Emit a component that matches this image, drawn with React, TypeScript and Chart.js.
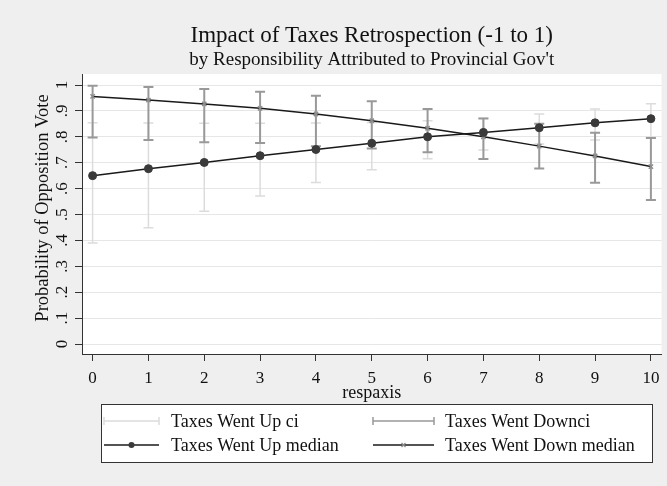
import { useEffect, useRef } from "react";
import { Chart, registerables } from "chart.js";

Chart.register(...registerables);

// Responsibility scale (x) and predicted probabilities of an opposition vote
const respaxis = [0, 1, 2, 3, 4, 5, 6, 7, 8, 9, 10];
const upMedian = [0.65, 0.677, 0.701, 0.727, 0.751, 0.775, 0.8, 0.817, 0.835, 0.854, 0.87];
const downMedian = [0.956, 0.942, 0.927, 0.91, 0.888, 0.862, 0.833, 0.8, 0.764, 0.726, 0.685];
const upCiLow = [0.39, 0.449, 0.513, 0.571, 0.624, 0.673, 0.715, 0.749, 0.772, 0.788, 0.797];
const upCiHigh = [0.854, 0.853, 0.852, 0.852, 0.853, 0.855, 0.862, 0.872, 0.888, 0.907, 0.928];
const downCiLow = [0.797, 0.788, 0.779, 0.776, 0.764, 0.755, 0.74, 0.714, 0.678, 0.623, 0.556];
const downCiHigh = [0.997, 0.992, 0.985, 0.974, 0.959, 0.937, 0.907, 0.871, 0.85, 0.816, 0.795];

const yTickValues = [0, 0.1, 0.2, 0.3, 0.4, 0.5, 0.6, 0.7, 0.8, 0.9, 1];
const yTickLabels = ["0", ".1", ".2", ".3", ".4", ".5", ".6", ".7", ".8", ".9", "1"];

const titleText = "Impact of Taxes Retrospection (-1 to 1)";
const subtitleText = "by Responsibility Attributed to Provincial Gov't";
const xTitleText = "respaxis";
const yTitleText = "Probability of Opposition Vote";
const legendLabels = [
  "Taxes Went Up ci",
  "Taxes Went Downci",
  "Taxes Went Up median",
  "Taxes Went Down median",
];

const SERIF = "'Liberation Serif', 'Times New Roman', serif";
const UP_CI_COLOR = "#dcdcdc";
const DOWN_CI_COLOR = "#999999";
const LINE_COLOR = "#1a1a1a";
const UP_MARKER = "#3a3a3a";
const DOWN_MARKER = "#8c8c8c";

function drawCap(ctx: CanvasRenderingContext2D, x: number, y: number, half: number) {
  ctx.moveTo(x - half, y);
  ctx.lineTo(x + half, y);
}

function drawRangeBars(
  chart: any,
  lows: number[],
  highs: number[],
  color: string,
  width: number
) {
  const { ctx, scales } = chart;
  const xs = scales.x;
  const ys = scales.y;
  ctx.save();
  ctx.strokeStyle = color;
  ctx.lineWidth = width;
  ctx.beginPath();
  respaxis.forEach((r, i) => {
    const px = xs.getPixelForValue(r);
    const lo = ys.getPixelForValue(lows[i]);
    const hi = ys.getPixelForValue(highs[i]);
    ctx.moveTo(px, lo);
    ctx.lineTo(px, hi);
    drawCap(ctx, px, lo, 5);
    drawCap(ctx, px, hi, 5);
  });
  ctx.stroke();
  ctx.restore();
}

const decorPlugin = {
  id: "decor",
  beforeDraw(chart: any) {
    const { ctx, chartArea: a, width, height } = chart;
    ctx.save();
    ctx.fillStyle = "#efefef";
    ctx.fillRect(0, 0, width, height);
    ctx.fillStyle = "#ffffff";
    ctx.fillRect(a.left, a.top, a.right - a.left, a.bottom - a.top);
    ctx.restore();
  },
  beforeDatasetsDraw(chart: any) {
    drawRangeBars(chart, upCiLow, upCiHigh, UP_CI_COLOR, 1.5);
    drawRangeBars(chart, downCiLow, downCiHigh, DOWN_CI_COLOR, 2);
  },
  afterDraw(chart: any) {
    const { ctx, chartArea: a, scales } = chart;
    const cx = (a.left + a.right) / 2;
    ctx.save();
    ctx.fillStyle = "#111";

    // titles
    ctx.textAlign = "center";
    ctx.textBaseline = "alphabetic";
    ctx.font = `23px ${SERIF}`;
    ctx.fillText(titleText, cx, 42);
    ctx.font = `19px ${SERIF}`;
    ctx.fillText(subtitleText, cx, 65);

    // y tick labels, rotated
    ctx.font = `17px ${SERIF}`;
    yTickValues.forEach((v, i) => {
      const py = scales.y.getPixelForValue(v);
      ctx.save();
      ctx.translate(67, py);
      ctx.rotate(-Math.PI / 2);
      ctx.textAlign = "center";
      ctx.textBaseline = "alphabetic";
      ctx.fillText(yTickLabels[i], 0, 0);
      ctx.restore();
    });

    // y axis title
    ctx.save();
    ctx.font = `18.5px ${SERIF}`;
    ctx.translate(48, 208);
    ctx.rotate(-Math.PI / 2);
    ctx.textAlign = "center";
    ctx.fillText(yTitleText, 0, 0);
    ctx.restore();

    // x axis title
    ctx.font = `18px ${SERIF}`;
    ctx.textAlign = "center";
    ctx.fillText(xTitleText, cx, 398);

    // legend
    const box = { left: 101, top: 404, right: 653, bottom: 463 };
    ctx.fillStyle = "#ffffff";
    ctx.fillRect(box.left, box.top, box.right - box.left, box.bottom - box.top);
    ctx.strokeStyle = "#333";
    ctx.lineWidth = 1;
    ctx.strokeRect(box.left + 0.5, box.top + 0.5, box.right - box.left - 1, box.bottom - box.top - 1);

    const cols = [{ s0: 104, s1: 159, tx: 171 }, { s0: 373, s1: 434, tx: 445 }];
    const rows = [421, 445];
    ctx.font = `18px ${SERIF}`;
    ctx.textAlign = "left";
    ctx.textBaseline = "middle";
    legendLabels.forEach((label, i) => {
      const col = cols[i % 2];
      const y = rows[Math.floor(i / 2)];
      ctx.save();
      if (i < 2) {
        ctx.strokeStyle = i === 0 ? UP_CI_COLOR : DOWN_CI_COLOR;
        ctx.lineWidth = 1.5;
        ctx.beginPath();
        ctx.moveTo(col.s0, y);
        ctx.lineTo(col.s1, y);
        ctx.moveTo(col.s0, y - 4);
        ctx.lineTo(col.s0, y + 4);
        ctx.moveTo(col.s1, y - 4);
        ctx.lineTo(col.s1, y + 4);
        ctx.stroke();
      } else {
        ctx.strokeStyle = LINE_COLOR;
        ctx.lineWidth = 1.5;
        ctx.beginPath();
        ctx.moveTo(col.s0, y);
        ctx.lineTo(col.s1, y);
        ctx.stroke();
        const mx = (col.s0 + col.s1) / 2;
        if (i === 2) {
          ctx.fillStyle = UP_MARKER;
          ctx.beginPath();
          ctx.arc(mx, y, 3, 0, Math.PI * 2);
          ctx.fill();
        } else {
          ctx.strokeStyle = DOWN_MARKER;
          ctx.lineWidth = 1.2;
          ctx.beginPath();
          ctx.moveTo(mx - 2, y - 2);
          ctx.lineTo(mx + 2, y + 2);
          ctx.moveTo(mx + 2, y - 2);
          ctx.lineTo(mx - 2, y + 2);
          ctx.stroke();
        }
      }
      ctx.restore();
      ctx.fillStyle = "#111";
      ctx.fillText(label, col.tx, y + 1);
    });

    ctx.restore();
  },
};

export default function App() {
  const canvasRef = useRef<HTMLCanvasElement | null>(null);

  useEffect(() => {
    const canvas = canvasRef.current;
    if (!canvas) return;
    Chart.defaults.font.family = SERIF;

    const chart = new Chart(canvas, {
      type: "line",
      data: {
        datasets: [
          {
            label: legendLabels[2],
            data: respaxis.map((r, i) => ({ x: r, y: upMedian[i] })),
            borderColor: LINE_COLOR,
            borderWidth: 1.5,
            pointStyle: "circle",
            pointRadius: 4,
            pointBackgroundColor: UP_MARKER,
            pointBorderColor: UP_MARKER,
            pointBorderWidth: 1,
            tension: 0,
          },
          {
            label: legendLabels[3],
            data: respaxis.map((r, i) => ({ x: r, y: downMedian[i] })),
            borderColor: LINE_COLOR,
            borderWidth: 1.5,
            pointStyle: "crossRot",
            pointRadius: 3,
            pointBorderColor: DOWN_MARKER,
            pointBorderWidth: 1.5,
            tension: 0,
          },
        ],
      },
      options: {
        animation: false,
        responsive: false,
        layout: { padding: { top: 74, right: 5, left: 0, bottom: 0 } },
        plugins: {
          legend: { display: false },
          tooltip: { enabled: false },
          title: { display: false },
        },
        scales: {
          x: {
            type: "linear",
            min: -0.19,
            max: 10.19,
            afterFit: (s: any) => {
              s.height = 132;
            },
            border: { display: true, color: "#333", width: 1 },
            grid: {
              drawOnChartArea: false,
              drawTicks: true,
              tickLength: 7,
              tickColor: "#333",
            },
            ticks: {
              stepSize: 1,
              includeBounds: false,
              autoSkip: false,
              maxRotation: 0,
              padding: 7,
              color: "#111",
              font: { size: 17, family: SERIF },
              callback: (v: any) => (Number.isInteger(v) ? String(v) : ""),
            },
          },
          y: {
            type: "linear",
            min: -0.0386,
            max: 1.0425,
            afterFit: (s: any) => {
              s.width = 82;
            },
            border: { display: true, color: "#333", width: 1 },
            grid: {
              color: "#e6e6e6",
              lineWidth: 1,
              drawTicks: true,
              tickLength: 7,
              tickColor: "#333",
            },
            ticks: {
              stepSize: 0.1,
              includeBounds: false,
              display: false,
            },
          },
        },
      },
      plugins: [decorPlugin],
    });

    return () => chart.destroy();
  }, []);

  return (
    <div style={{ position: "fixed", left: 0, top: 0, width: 667, height: 486 }}>
      <canvas ref={canvasRef} width={667} height={486} style={{ display: "block" }} />
    </div>
  );
}
